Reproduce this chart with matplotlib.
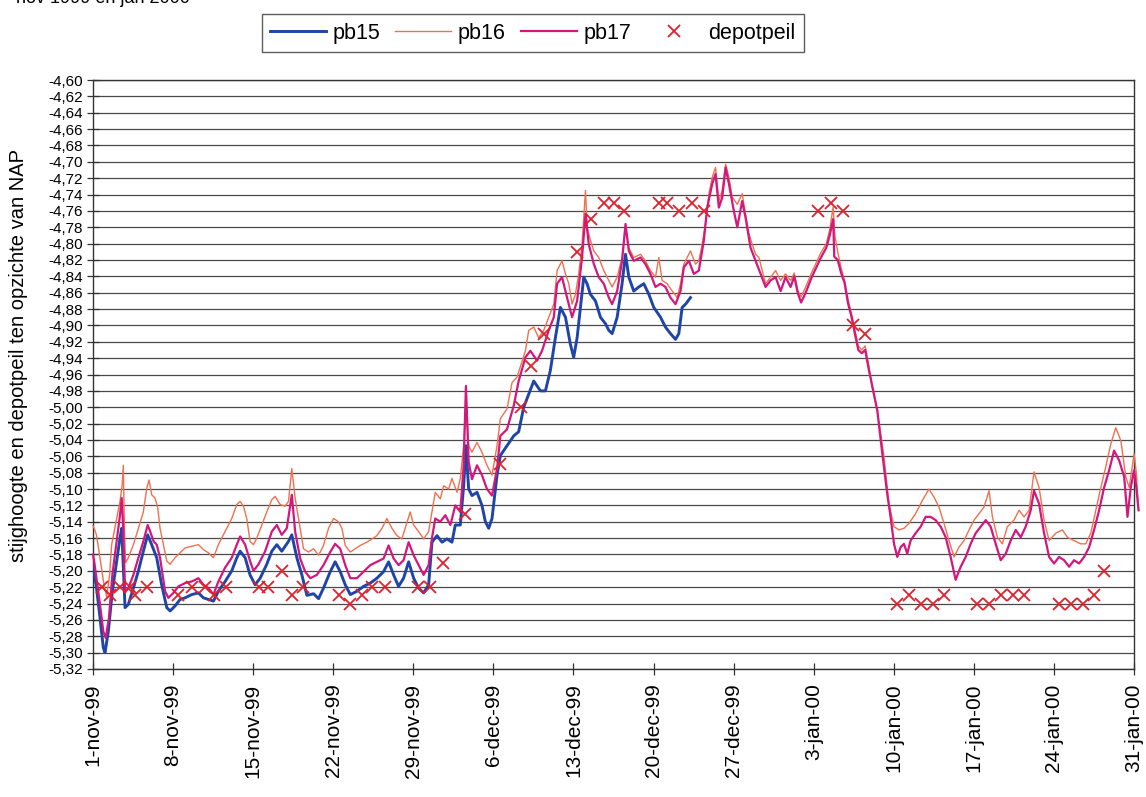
import numpy as np
import pandas as pd
import matplotlib
matplotlib.use("Agg")
import matplotlib.pyplot as plt
from matplotlib.ticker import FuncFormatter

plt.rcParams['font.family'] = ['Liberation Sans', 'DejaVu Sans']

START = np.datetime64('1999-11-01T00:00')
MONTHS = ['jan', 'feb', 'mrt', 'apr', 'mei', 'jun', 'jul', 'aug', 'sep', 'okt', 'nov', 'dec']

# (dag sinds 1-nov-99, stijghoogte m t.o.v. NAP)
pb15 = [
    (0.0, -5.195), (0.3, -5.220), (0.61, -5.257), (0.9, -5.294), (1.05, -5.300), (1.34, -5.274),
    (1.69, -5.225), (2.07, -5.188), (2.36, -5.160), (2.51, -5.148), (2.65, -5.196), (2.8, -5.245),
    (3.09, -5.241), (3.53, -5.221), (3.97, -5.200), (4.4, -5.176), (4.78, -5.156), (5.13, -5.168),
    (5.57, -5.184), (6.0, -5.217), (6.45, -5.245), (6.74, -5.249), (7.17, -5.243), (7.61, -5.235),
    (8.05, -5.233), (8.63, -5.229), (9.22, -5.227), (9.65, -5.233), (10.09, -5.235), (10.53, -5.237),
    (10.96, -5.225), (11.55, -5.213), (12.13, -5.200), (12.57, -5.184), (12.86, -5.176), (13.3, -5.184),
    (13.73, -5.205), (14.17, -5.217), (14.61, -5.209), (15.19, -5.192), (15.63, -5.176), (16.07, -5.168),
    (16.5, -5.176), (17.09, -5.164), (17.38, -5.156), (17.82, -5.184), (18.26, -5.205), (18.7, -5.230),
    (19.28, -5.228), (19.72, -5.234), (20.15, -5.221), (20.74, -5.201), (21.17, -5.189), (21.61, -5.201),
    (22.05, -5.217), (22.49, -5.229), (23.07, -5.225), (23.65, -5.219), (24.24, -5.215), (24.82, -5.209),
    (25.4, -5.201), (25.84, -5.189), (26.28, -5.205), (26.71, -5.219), (27.15, -5.209), (27.59, -5.189),
    (28.03, -5.209), (28.46, -5.221), (28.9, -5.227), (29.34, -5.217), (29.63, -5.165), (30.07, -5.157),
    (30.51, -5.165), (30.94, -5.161), (31.38, -5.165), (31.67, -5.144), (32.11, -5.144), (32.4, -5.096),
    (32.6, -5.047), (32.84, -5.100), (33.13, -5.108), (33.57, -5.104), (34.0, -5.120), (34.3, -5.140),
    (34.59, -5.148), (34.88, -5.136), (35.32, -5.083), (35.61, -5.059), (36.19, -5.047), (36.78, -5.035),
    (37.21, -5.030), (37.65, -5.000), (38.53, -4.968), (39.11, -4.980), (39.55, -4.980), (39.98, -4.955),
    (40.42, -4.915), (40.86, -4.878), (41.3, -4.890), (41.73, -4.923), (42.02, -4.939), (42.32, -4.915),
    (42.61, -4.878), (42.9, -4.841), (43.19, -4.849), (43.48, -4.862), (43.92, -4.870), (44.36, -4.890),
    (44.8, -4.898), (45.09, -4.906), (45.38, -4.910), (45.82, -4.890), (46.25, -4.849), (46.55, -4.813),
    (46.84, -4.841), (47.27, -4.858), (47.71, -4.853), (48.15, -4.849), (48.59, -4.862), (49.02, -4.878),
    (49.61, -4.890), (50.04, -4.902), (50.48, -4.910), (50.92, -4.917), (51.21, -4.910), (51.5, -4.878),
    (51.8, -4.874), (52.23, -4.866),
]

pb16 = [
    (0.0, -5.145), (0.1, -5.148), (0.3, -5.156), (0.61, -5.184), (0.9, -5.212), (1.2, -5.232),
    (1.45, -5.205), (1.63, -5.168), (2.07, -5.136), (2.36, -5.115), (2.55, -5.095), (2.65, -5.071),
    (2.75, -5.150), (2.85, -5.190), (3.09, -5.184), (3.53, -5.168), (3.97, -5.148), (4.4, -5.128),
    (4.7, -5.099), (4.9, -5.089), (5.13, -5.107), (5.42, -5.111), (5.66, -5.123), (5.86, -5.148),
    (6.15, -5.168), (6.45, -5.188), (6.74, -5.192), (7.17, -5.184), (7.61, -5.178), (8.05, -5.172),
    (8.63, -5.170), (9.22, -5.168), (9.65, -5.174), (10.09, -5.178), (10.53, -5.184), (10.96, -5.168),
    (11.55, -5.152), (12.13, -5.136), (12.57, -5.119), (12.86, -5.115), (13.15, -5.121), (13.44, -5.136),
    (13.73, -5.164), (14.03, -5.168), (14.32, -5.160), (14.76, -5.144), (15.19, -5.128), (15.63, -5.113),
    (15.92, -5.109), (16.36, -5.119), (16.8, -5.121), (17.09, -5.115), (17.38, -5.075), (17.67, -5.111),
    (18.11, -5.148), (18.4, -5.173), (18.84, -5.177), (19.28, -5.173), (19.72, -5.181), (20.15, -5.169),
    (20.59, -5.148), (21.03, -5.136), (21.46, -5.140), (21.76, -5.148), (22.05, -5.169), (22.49, -5.177),
    (22.92, -5.173), (23.36, -5.169), (23.94, -5.165), (24.38, -5.161), (24.82, -5.157), (25.26, -5.148),
    (25.69, -5.136), (26.13, -5.148), (26.57, -5.157), (27.0, -5.161), (27.38, -5.144), (27.73, -5.128),
    (28.03, -5.144), (28.46, -5.152), (28.9, -5.161), (29.34, -5.152), (29.63, -5.128), (29.92, -5.104),
    (30.36, -5.112), (30.65, -5.096), (31.09, -5.100), (31.38, -5.087), (31.82, -5.104), (32.11, -5.087),
    (32.4, -5.047), (32.6, -4.990), (32.84, -5.047), (33.13, -5.055), (33.57, -5.043), (34.0, -5.055),
    (34.44, -5.071), (34.88, -5.083), (35.32, -5.047), (35.61, -5.014), (36.19, -5.002), (36.63, -4.970),
    (37.07, -4.963), (37.8, -4.931), (38.09, -4.906), (38.53, -4.902), (38.96, -4.915), (39.4, -4.906),
    (39.84, -4.890), (40.28, -4.874), (40.57, -4.833), (41.0, -4.821), (41.3, -4.837), (41.59, -4.849),
    (41.88, -4.874), (42.17, -4.862), (42.46, -4.837), (42.75, -4.801), (43.05, -4.735), (43.19, -4.780),
    (43.48, -4.796), (43.78, -4.809), (44.21, -4.817), (44.65, -4.833), (45.09, -4.845), (45.38, -4.853),
    (45.82, -4.841), (46.25, -4.817), (46.55, -4.780), (46.84, -4.805), (47.27, -4.817), (47.86, -4.813),
    (48.29, -4.821), (48.73, -4.833), (49.17, -4.841), (49.46, -4.817), (49.75, -4.845), (50.19, -4.849),
    (50.63, -4.858), (51.07, -4.866), (51.36, -4.849), (51.65, -4.825), (51.94, -4.817), (52.23, -4.809),
    (52.67, -4.825), (52.96, -4.821), (53.25, -4.801), (53.54, -4.776), (53.84, -4.739), (54.13, -4.719),
    (54.42, -4.707), (54.71, -4.748), (55.0, -4.735), (55.3, -4.703), (55.59, -4.719), (55.88, -4.743),
    (56.32, -4.752), (56.75, -4.739), (57.04, -4.764), (57.34, -4.788), (57.63, -4.801), (57.92, -4.813),
    (58.21, -4.817), (58.5, -4.833), (58.79, -4.849), (59.23, -4.841), (59.67, -4.833), (60.11, -4.845),
    (60.54, -4.837), (60.98, -4.845), (61.3, -4.836), (61.6, -4.857), (61.9, -4.865), (62.3, -4.853),
    (62.8, -4.836), (63.2, -4.824), (63.6, -4.812), (64.1, -4.800), (64.4, -4.783), (64.7, -4.755),
    (64.85, -4.790), (65.1, -4.810), (65.4, -4.830), (65.7, -4.845), (66.0, -4.868), (66.3, -4.885),
    (66.6, -4.905), (66.9, -4.925), (67.2, -4.930), (67.5, -4.925), (67.83, -4.950), (68.1, -4.975),
    (68.56, -5.004), (69.14, -5.060), (69.58, -5.118), (70.02, -5.146), (70.45, -5.150), (70.89, -5.148),
    (71.33, -5.142), (71.91, -5.130), (72.5, -5.114), (73.08, -5.100), (73.52, -5.110), (73.95, -5.122),
    (74.39, -5.142), (74.83, -5.163), (75.27, -5.183), (75.7, -5.171), (76.14, -5.163), (76.58, -5.150),
    (77.02, -5.138), (77.45, -5.130), (77.89, -5.122), (78.33, -5.102), (78.62, -5.134), (79.06, -5.159),
    (79.49, -5.167), (79.93, -5.146), (80.51, -5.138), (80.95, -5.126), (81.39, -5.134), (81.83, -5.126),
    (82.26, -5.079), (82.7, -5.098), (83.14, -5.138), (83.58, -5.163), (84.16, -5.154), (84.74, -5.150),
    (85.18, -5.159), (85.76, -5.163), (86.35, -5.167), (86.78, -5.167), (87.22, -5.154), (87.66, -5.126),
    (88.1, -5.098), (88.53, -5.073), (88.97, -5.045), (89.41, -5.025), (89.85, -5.041), (90.28, -5.085),
    (90.58, -5.098), (91.01, -5.057), (91.2, -5.080), (91.4, -5.126),
]

pb17 = [
    (0.0, -5.180), (0.1, -5.188), (0.3, -5.209), (0.61, -5.241), (0.9, -5.274), (1.11, -5.282),
    (1.4, -5.257), (1.69, -5.205), (2.07, -5.164), (2.36, -5.132), (2.51, -5.111), (2.65, -5.150),
    (2.8, -5.225), (3.09, -5.221), (3.53, -5.205), (3.97, -5.184), (4.4, -5.164), (4.78, -5.144),
    (5.0, -5.152), (5.3, -5.164), (5.57, -5.168), (5.86, -5.184), (6.3, -5.225), (6.59, -5.233),
    (7.03, -5.227), (7.47, -5.219), (8.05, -5.215), (8.63, -5.213), (9.22, -5.209), (9.65, -5.217),
    (10.09, -5.221), (10.53, -5.229), (10.96, -5.213), (11.55, -5.196), (12.13, -5.184), (12.57, -5.168),
    (12.86, -5.158), (13.3, -5.168), (13.73, -5.188), (14.03, -5.200), (14.47, -5.192), (15.05, -5.176),
    (15.63, -5.152), (16.07, -5.144), (16.5, -5.156), (16.94, -5.148), (17.38, -5.107), (17.67, -5.152),
    (18.11, -5.185), (18.55, -5.201), (18.99, -5.209), (19.57, -5.205), (20.15, -5.193), (20.74, -5.177),
    (21.17, -5.167), (21.61, -5.173), (22.05, -5.193), (22.49, -5.209), (23.07, -5.209), (23.65, -5.201),
    (24.24, -5.193), (24.82, -5.189), (25.4, -5.185), (25.84, -5.169), (26.28, -5.185), (26.71, -5.193),
    (27.15, -5.187), (27.59, -5.165), (28.03, -5.181), (28.46, -5.193), (28.9, -5.205), (29.34, -5.193),
    (29.63, -5.160), (29.92, -5.136), (30.36, -5.140), (30.8, -5.132), (31.24, -5.144), (31.67, -5.120),
    (32.11, -5.128), (32.4, -5.071), (32.6, -4.974), (32.84, -5.067), (33.13, -5.088), (33.57, -5.071),
    (34.0, -5.083), (34.44, -5.100), (34.88, -5.108), (35.32, -5.075), (35.61, -5.035), (36.19, -5.027),
    (36.78, -4.998), (37.21, -4.968), (37.8, -4.939), (38.23, -4.931), (38.82, -4.943), (39.25, -4.931),
    (39.84, -4.906), (40.28, -4.890), (40.57, -4.849), (41.0, -4.841), (41.44, -4.866), (41.88, -4.890),
    (42.32, -4.870), (42.75, -4.817), (43.05, -4.764), (43.34, -4.801), (43.78, -4.825), (44.21, -4.841),
    (44.65, -4.849), (45.09, -4.866), (45.38, -4.874), (45.82, -4.858), (46.25, -4.821), (46.55, -4.776),
    (46.84, -4.809), (47.27, -4.821), (47.86, -4.817), (48.29, -4.825), (48.73, -4.837), (49.17, -4.853),
    (49.61, -4.849), (50.04, -4.853), (50.48, -4.866), (50.92, -4.874), (51.36, -4.858), (51.65, -4.829),
    (52.09, -4.821), (52.52, -4.837), (52.96, -4.833), (53.4, -4.796), (53.69, -4.756), (54.13, -4.727),
    (54.42, -4.715), (54.71, -4.756), (55.0, -4.744), (55.3, -4.707), (55.59, -4.727), (56.02, -4.760),
    (56.32, -4.780), (56.75, -4.748), (57.04, -4.768), (57.48, -4.805), (57.92, -4.821), (58.36, -4.837),
    (58.79, -4.853), (59.23, -4.845), (59.67, -4.841), (60.11, -4.858), (60.54, -4.841), (60.98, -4.853),
    (61.3, -4.840), (61.6, -4.860), (61.9, -4.872), (62.3, -4.860), (62.8, -4.842), (63.2, -4.830),
    (63.6, -4.818), (64.1, -4.805), (64.4, -4.790), (64.7, -4.770), (64.8, -4.816), (65.1, -4.820),
    (65.4, -4.836), (65.7, -4.848), (66.0, -4.873), (66.3, -4.889), (66.6, -4.910), (66.9, -4.930),
    (67.2, -4.934), (67.5, -4.930), (67.83, -4.955), (67.97, -4.964), (68.56, -5.004), (69.0, -5.057),
    (69.43, -5.106), (69.72, -5.134), (70.02, -5.167), (70.31, -5.183), (70.6, -5.171), (70.89, -5.167),
    (71.18, -5.179), (71.47, -5.163), (71.91, -5.154), (72.35, -5.146), (72.79, -5.134), (73.22, -5.134),
    (73.66, -5.138), (74.1, -5.146), (74.54, -5.159), (74.97, -5.183), (75.41, -5.211), (75.85, -5.195),
    (76.29, -5.183), (76.72, -5.167), (77.16, -5.154), (77.6, -5.146), (78.04, -5.138), (78.47, -5.146),
    (78.91, -5.167), (79.35, -5.187), (79.79, -5.179), (80.22, -5.163), (80.66, -5.150), (81.1, -5.159),
    (81.53, -5.146), (81.97, -5.126), (82.26, -5.102), (82.7, -5.118), (83.14, -5.154), (83.58, -5.183),
    (84.01, -5.191), (84.45, -5.183), (84.89, -5.187), (85.33, -5.195), (85.76, -5.187), (86.2, -5.191),
    (86.64, -5.183), (87.08, -5.171), (87.51, -5.150), (87.95, -5.126), (88.39, -5.098), (88.83, -5.077),
    (89.26, -5.053), (89.7, -5.065), (90.14, -5.085), (90.43, -5.134), (90.72, -5.098), (91.01, -5.077),
    (91.2, -5.098), (91.4, -5.126),
]

depotpeil = [
    (0.75, -5.22), (1.5, -5.23), (2.35, -5.22), (3.2, -5.22), (3.7, -5.23), (4.7, -5.22),
    (7.4, -5.23), (8.65, -5.22), (9.8, -5.22), (10.55, -5.23), (11.6, -5.22), (14.5, -5.22),
    (15.3, -5.22), (16.5, -5.20), (17.4, -5.23), (18.4, -5.22), (21.5, -5.23), (22.5, -5.24),
    (23.5, -5.23), (24.4, -5.22), (25.5, -5.22), (28.4, -5.22), (29.5, -5.22), (30.6, -5.19),
    (32.5, -5.13), (35.55, -5.07), (37.4, -5.00), (38.25, -4.95), (39.4, -4.91), (42.3, -4.81),
    (43.5, -4.77), (44.65, -4.75), (45.55, -4.75), (46.4, -4.76), (49.45, -4.75), (50.2, -4.75),
    (51.2, -4.76), (52.4, -4.75), (53.4, -4.76), (63.35, -4.76), (64.5, -4.75), (65.55, -4.76),
    (66.4, -4.90), (67.5, -4.91), (70.3, -5.24), (71.3, -5.23), (72.35, -5.24), (73.4, -5.24),
    (74.4, -5.23), (77.3, -5.24), (78.3, -5.24), (79.35, -5.23), (80.4, -5.23), (81.4, -5.23),
    (84.45, -5.24), (85.5, -5.24), (86.5, -5.24), (87.5, -5.23), (88.4, -5.20),
]


def to_dates(days):
    minutes = np.round(np.asarray(days) * 1440).astype('timedelta64[m]')
    return START + minutes


def split(series):
    days, vals = np.array(series).T
    return to_dates(days), vals


fig = plt.figure(figsize=(11.46, 7.97), dpi=100)
ax = fig.add_axes([93 / 1146, 1 - 669 / 797, (1134 - 93) / 1146, (669 - 80) / 797])

x, y = split(pb15)
ax.plot(x, y, color='#1f45a8', lw=2.1, label='pb15', zorder=3)
x, y = split(pb16)
ax.plot(x, y, color='#f0704f', lw=1.0, label='pb16', zorder=4, clip_on=False)
x, y = split(pb17)
ax.plot(x, y, color='#d3177c', lw=1.6, label='pb17', zorder=5, clip_on=False)
x, y = split(depotpeil)
ax.plot(x, y, ls='none', marker='x', ms=8.5, mew=1.3, color='#e0202a', label='depotpeil', zorder=6)

# assen
ax.set_ylim(-5.32, -4.60)
ax.set_yticks(np.round(np.arange(-5.32, -4.599, 0.02), 2))
ax.yaxis.set_major_formatter(FuncFormatter(lambda v, p: f"{v:.2f}".replace('.', ',')))
ax.yaxis.grid(True, color='#4a4a4a', lw=0.9)
ax.set_axisbelow(True)

weeks = pd.date_range('1999-11-01', '2000-01-31', freq='7D')
ax.set_xlim(weeks[0], weeks[-1])
ax.set_xticks(weeks)
ax.set_xticklabels([f"{d.day}-{MONTHS[d.month - 1]}-{d.strftime('%y')}" for d in weeks],
                   rotation=90, fontsize=15)
ax.tick_params(axis='x', direction='inout', length=9, width=0.9, pad=6, color='#333333')
ax.tick_params(axis='y', direction='inout', length=8, width=0.9, labelsize=11, pad=3, color='#333333')
for s in ax.spines.values():
    s.set_color('#333333')
    s.set_linewidth(1.0)

fig.text(19 / 1146, 1 - 356 / 797, 'stijghoogte en depotpeil ten opzichte van NAP',
         rotation=90, fontsize=14.5, ha='center', va='center')

# titel valt grotendeels buiten het beeld
fig.text(190 / 1146, 1 - 3 / 797, 'nov 1999 en jan 2000', fontsize=13, ha='right', va='baseline')

leg = fig.legend(ncol=4, loc='upper center', bbox_to_anchor=(533 / 1146, 1 - 14 / 797),
                 borderaxespad=0, fontsize=15.5, frameon=True, fancybox=False, edgecolor='#333333',
                 handlelength=2.6, handletextpad=0.3, columnspacing=0.7, borderpad=0.4)
leg.get_frame().set_linewidth(1.0)

fig.savefig('out.png', dpi=100)
